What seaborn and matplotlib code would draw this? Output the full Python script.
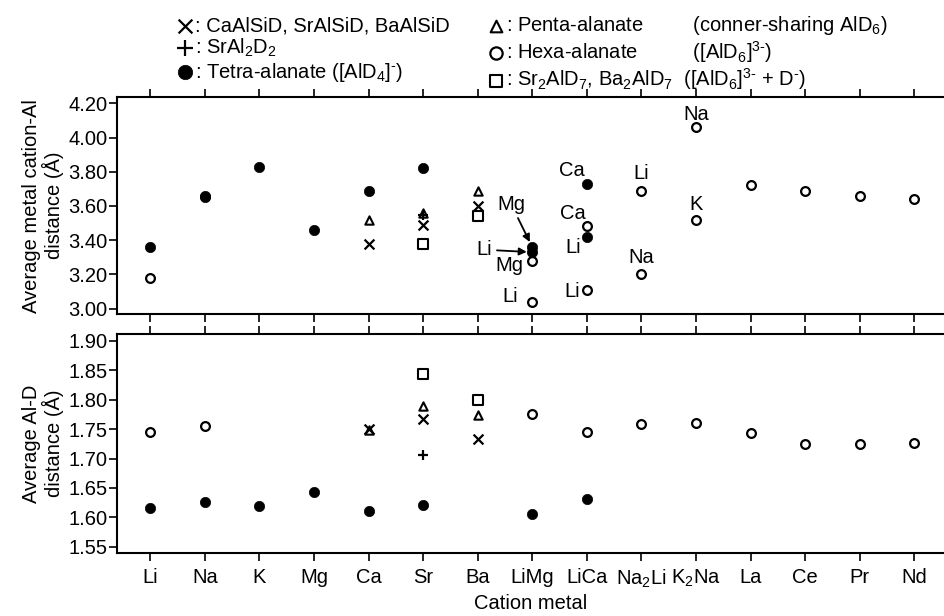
import numpy as np
import matplotlib
matplotlib.use('Agg')
import matplotlib.pyplot as plt
from matplotlib.ticker import FormatStrFormatter
import seaborn as sns

sns.set_style('ticks', {'axes.edgecolor': 'black', 'xtick.color': 'black',
                        'ytick.color': 'black', 'text.color': 'black',
                        'axes.labelcolor': 'black'})
plt.rcParams['font.family'] = ['Liberation Sans', 'DejaVu Sans']
plt.rcParams['mathtext.fontset'] = 'custom'
plt.rcParams['mathtext.rm'] = 'Liberation Sans'
plt.rcParams['mathtext.it'] = 'Liberation Sans:italic'
plt.rcParams['mathtext.default'] = 'regular'

FS = 14.5

# categories
metals = ['Li', 'Na', 'K', 'Mg', 'Ca', 'Sr', 'Ba', 'LiMg', 'LiCa', 'Na2Li', 'K2Na', 'La', 'Ce', 'Pr', 'Nd']
metal_labels = ['Li', 'Na', 'K', 'Mg', 'Ca', 'Sr', 'Ba', 'LiMg', 'LiCa', 'Na$_2$Li', 'K$_2$Na',
                'La', 'Ce', 'Pr', 'Nd']

# x : CaAlSiD, SrAlSiD, BaAlSiD
alsid_m = ['Ca', 'Sr', 'Ba']
alsid_top = [3.38, 3.49, 3.60]
alsid_bot = [1.750, 1.768, 1.733]

# + : SrAl2D2
sral_m = ['Sr']
sral_top = [3.55]
sral_bot = [1.706]

# filled circle : tetra-alanate
tetra_top_m = ['Li', 'Na', 'Na', 'K', 'Mg', 'Ca', 'Sr', 'LiMg', 'LiMg', 'LiCa', 'LiCa']
tetra_top = [3.36, 3.66, 3.65, 3.83, 3.46, 3.69, 3.82, 3.36, 3.33, 3.73, 3.42]
tetra_bot_m = ['Li', 'Na', 'K', 'Mg', 'Ca', 'Sr', 'LiMg', 'LiCa']
tetra_bot = [1.616, 1.626, 1.619, 1.644, 1.611, 1.621, 1.606, 1.631]

# triangle : penta-alanate
penta_m = ['Ca', 'Sr', 'Ba']
penta_top = [3.52, 3.56, 3.69]
penta_bot = [1.748, 1.790, 1.774]

# open circle : hexa-alanate
hexa_top_m = ['Li', 'LiMg', 'LiMg', 'LiCa', 'LiCa', 'Na2Li', 'Na2Li', 'K2Na', 'K2Na',
              'La', 'Ce', 'Pr', 'Nd']
hexa_top = [3.18, 3.28, 3.04, 3.48, 3.11, 3.69, 3.20, 4.06, 3.52, 3.72, 3.69, 3.66, 3.64]
hexa_bot_m = ['Li', 'Na', 'LiMg', 'LiCa', 'Na2Li', 'K2Na', 'La', 'Ce', 'Pr', 'Nd']
hexa_bot = [1.745, 1.756, 1.775, 1.745, 1.759, 1.760, 1.743, 1.725, 1.724, 1.727]

# square : Sr2AlD7, Ba2AlD7
sq_m = ['Sr', 'Ba']
sq_top = [3.38, 3.54]
sq_bot = [1.843, 1.800]

# labels of the individual cations in the mixed-metal compounds (top panel)
ann_metal = ['K2Na', 'K2Na', 'Na2Li', 'Na2Li', 'LiCa', 'LiCa', 'LiCa', 'LiCa',
             'LiMg', 'LiMg', 'LiMg', 'LiMg']
ann_value = [4.06, 3.52, 3.69, 3.20, 3.73, 3.48, 3.42, 3.11, 3.36, 3.33, 3.28, 3.04]
ann_text = ['Na', 'K', 'Li', 'Na', 'Ca', 'Ca', 'Li', 'Li', 'Mg', 'Li', 'Mg', 'Li']

legend_labels = [
    ': CaAlSiD, SrAlSiD, BaAlSiD',
    ': SrAl$_2$D$_2$',
    r': Tetra-alanate ([AlD$_4$]$^{\text{-}}$)',
    ': Penta-alanate         (conner-sharing AlD$_6$)',
    r': Hexa-alanate          ([AlD$_6$]$^{\text{3-}}$)',
    r': Sr$_2$AlD$_7$, Ba$_2$AlD$_7$  ([AlD$_6$]$^{\text{3-}}$ + D$^{\text{-}}$)',
]

pos = {m: i for i, m in enumerate(metals)}

styles = {
    'hexa': dict(marker='o', s=40, color='white', edgecolor='black', linewidth=1.6),
    'penta': dict(marker='^', s=36, color='white', edgecolor='black', linewidth=1.5),
    'sq': dict(marker='s', s=42, color='white', edgecolor='black', linewidth=1.5),
    'alsid': dict(marker='x', s=50, color='black', linewidth=1.6),
    'sral': dict(marker='+', s=60, color='black', linewidth=1.6),
    'tetra': dict(marker='o', s=55, color='black', edgecolor='black', linewidth=0.5),
}


def draw(ax, m_list, vals, key):
    sns.scatterplot(x=[pos[m] for m in m_list], y=vals, ax=ax, zorder=3, **styles[key])
    return ax.collections[-1]


fig = plt.figure(figsize=(9.44, 6.16), dpi=100)
ax1 = fig.add_axes([0.1236, 0.4898, 0.8764, 0.3528])
ax2 = fig.add_axes([0.1236, 0.1028, 0.8764, 0.3542])

handles = {}
handles['hexa'] = draw(ax1, hexa_top_m, hexa_top, 'hexa')
handles['penta'] = draw(ax1, penta_m, penta_top, 'penta')
handles['sq'] = draw(ax1, sq_m, sq_top, 'sq')
handles['alsid'] = draw(ax1, alsid_m, alsid_top, 'alsid')
handles['sral'] = draw(ax1, sral_m, sral_top, 'sral')
handles['tetra'] = draw(ax1, tetra_top_m, tetra_top, 'tetra')

draw(ax2, hexa_bot_m, hexa_bot, 'hexa')
draw(ax2, penta_m, penta_bot, 'penta')
draw(ax2, sq_m, sq_bot, 'sq')
draw(ax2, alsid_m, alsid_bot, 'alsid')
draw(ax2, sral_m, sral_bot, 'sral')
draw(ax2, tetra_bot_m, tetra_bot, 'tetra')

# text offsets (points) for the cation labels
ann_offsets = [(0, 5, 'center'), (0, 7, 'center'), (0, 8.4, 'center'), (0, 8.4, 'center'),
               (-1.4, 5.3, 'right'), (-1, 5.3, 'right'), (-4.2, -12, 'right'), (-5, -5, 'right'),
               (-15.3, 27, 'center'), (-34.4, -2.2, 'center'), (-6.7, -7.4, 'right'),
               (-10.3, -0.5, 'right')]
ann_arrow = [False] * 8 + [True, True, False, False]
for m, v, t, (dx, dy, ha), arr in zip(ann_metal, ann_value, ann_text, ann_offsets, ann_arrow):
    kw = {}
    if arr:
        kw['arrowprops'] = dict(arrowstyle='-|>', color='black', lw=1.3,
                                mutation_scale=11, shrinkA=1, shrinkB=4)
    ax1.annotate(t, xy=(pos[m], v), xytext=(dx, dy), textcoords='offset points',
                 ha=ha, va='baseline', fontsize=FS, zorder=4, **kw)

for ax in (ax1, ax2):
    ax.set_xlim(-0.616, 14.545)
    ax.set_xticks(range(len(metals)))
    ax.tick_params(axis='both', direction='out', length=5.5, width=1.2, labelsize=FS)
    ax.tick_params(axis='x', top=True, bottom=True, pad=5.3)
    ax.tick_params(axis='y', pad=1)
    for side in ('left', 'top', 'bottom'):
        ax.spines[side].set_linewidth(1.5)
    ax.spines['right'].set_visible(False)
    ax.yaxis.set_major_formatter(FormatStrFormatter('%.2f'))

ax1.set_ylim(2.967, 4.237)
ax1.set_yticks(np.arange(3.0, 4.21, 0.2))
ax1.tick_params(axis='x', labelbottom=False)
ax1.set_ylabel('Average metal cation-Al\ndistance (Å)', fontsize=FS, linespacing=1.05, labelpad=3)

ax2.set_ylim(1.540, 1.911)
ax2.set_yticks(np.arange(1.55, 1.901, 0.05))
ax2.set_xticklabels(metal_labels)
ax2.set_ylabel('Average Al-D\ndistance (Å)', fontsize=FS, linespacing=1.05, labelpad=3)
ax2.set_xlabel('Cation metal', fontsize=FS, labelpad=3)

order = ['alsid', 'sral', 'tetra', 'penta', 'hexa', 'sq']
fig.legend([handles[k] for k in order], legend_labels, ncol=2, loc='upper left',
           bbox_to_anchor=(0.1907, 0.977), frameon=False, fontsize=FS,
           borderpad=0, borderaxespad=0, handlelength=0.5, handletextpad=0.25,
           columnspacing=2.05, labelspacing=0.08, markerscale=1.4)

fig.savefig('out.png', dpi=100)
